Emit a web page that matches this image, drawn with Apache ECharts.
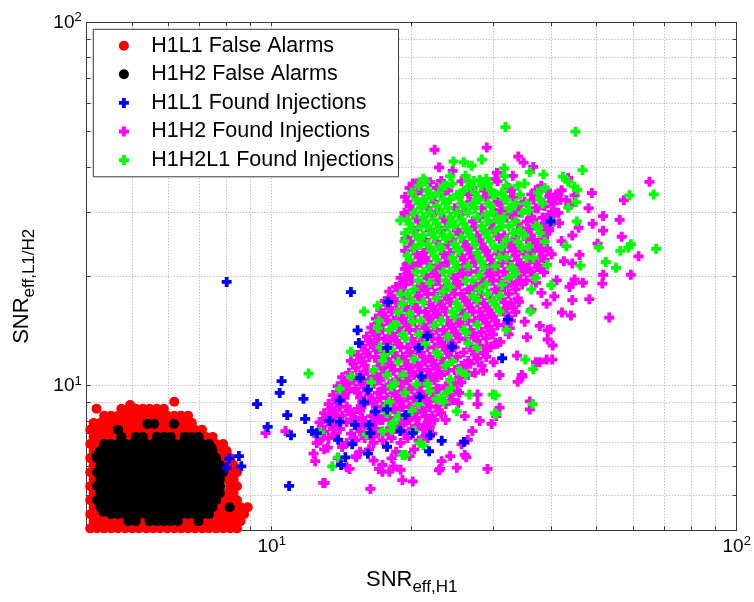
<!DOCTYPE html>
<html><head><meta charset="utf-8">
<script src="https://cdn.jsdelivr.net/npm/echarts@6/dist/echarts.min.js"></script>
<style>html,body{margin:0;padding:0;background:#fff}#chart{width:754px;height:602px}</style>
</head><body><div id="chart"></div>
<script>
const xTickValues = [5,6,7,8,9,10,20,30,40,50,60,70,80,90];
const yTickValues = [5,6,7,8,9,10,20,30,40,50,60,70,80,90];
const xLabelValues = [10,100];
const yLabelValues = [10,100];
const seriesNames = ['H1L1 False Alarms','H1H2 False Alarms','H1L1 Found Injections','H1H2 Found Injections','H1H2L1 Found Injections'];

// False alarm clouds, stored as rows: [y, [x values]]
const h1l1FalseAlarmRows = [
 [4.05,[4.07,4.21,4.36,4.51,4.67,4.84,5.01,5.18,5.37,5.56,5.75,5.96,6.17,6.38,6.61,6.84,7.08,7.33,7.59,7.86,8.14,8.42]],
 [4.24,[4.14,4.28,4.43,4.59,4.75,4.92,5.10,5.28,5.46,5.66,5.86,6.06,6.28,6.50,6.73,6.96,7.21,7.46,7.73,8.00,8.28,8.57]],
 [4.43,[4.07,4.21,4.36,7.59,7.86,8.14,8.42,8.72]],
 [4.63,[4.14,7.73,8.00,8.28,8.57,8.88]],
 [4.84,[4.07,7.86,8.14,8.42]],
 [5.06,[4.14,8.00,8.28]],
 [5.29,[4.07,8.14,8.42]],
 [5.53,[4.14,8.00,8.28]],
 [5.78,[4.07,8.14,8.42]],
 [6.05,[4.14,8.00,8.28]],
 [6.32,[4.07,7.86,8.14]],
 [6.61,[4.14,7.73,8.00]],
 [6.91,[4.07,4.21,7.59,7.86]],
 [7.23,[4.14,4.28,4.43,4.59,4.75,4.92,5.10,5.28,5.46,5.66,5.86,6.06,6.28,6.50,6.73,6.96,7.21,7.46]],
 [7.56,[4.07,4.21,4.36,4.51,4.67,4.84,5.01,5.18,5.37,5.56,5.75,5.96,6.17,6.38,6.61,6.84,7.08]],
 [7.90,[4.14,4.28,4.43,4.59,4.75,4.92,5.10,5.28,5.46,5.66,5.86,6.06,6.28,6.50,6.73]],
 [8.26,[4.36,4.51,4.67,4.84,5.01,5.18,5.37,5.56,5.75,5.96,6.17,6.38,6.61]],
 [8.64,[4.20,4.75,4.92,5.10,5.28,5.46,5.66,5.86]],
 [8.85,[4.96]],
 [9.03,[6.17]]
];
const h1h2FalseAlarmRows = [
 [4.24,[4.92,5.10,5.46,5.66,5.86,6.06,6.28,6.96]],
 [4.43,[4.51,4.67,4.84,5.01,5.18,5.37,5.56,5.75,5.96,6.17,6.38,6.61,6.84,7.08,7.33]],
 [4.50,[4.34]],
 [4.63,[4.28,4.43,4.59,4.75,4.92,5.10,5.28,5.46,5.66,5.86,6.06,6.28,6.50,6.73,6.96,7.21,7.46,8.12]],
 [4.84,[4.21,4.36,4.51,4.67,4.84,5.01,5.18,5.37,5.56,5.75,5.96,6.17,6.38,6.61,6.84,7.08,7.33,7.59]],
 [5.06,[4.28,4.43,4.59,4.75,4.92,5.10,5.28,5.46,5.66,5.86,6.06,6.28,6.50,6.73,6.96,7.21,7.46,7.73]],
 [5.29,[4.21,4.36,4.51,4.67,4.84,5.01,5.18,5.37,5.56,5.75,5.96,6.17,6.38,6.61,6.84,7.08,7.33,7.59,7.75]],
 [5.53,[4.28,4.43,4.59,4.75,4.92,5.10,5.28,5.46,5.66,5.86,6.06,6.28,6.50,6.73,6.96,7.21,7.46,7.73]],
 [5.78,[4.21,4.36,4.51,4.67,4.84,5.01,5.18,5.37,5.56,5.75,5.96,6.17,6.38,6.61,6.84,7.08,7.33,7.59,7.86]],
 [6.05,[4.28,4.43,4.59,4.75,4.92,5.10,5.28,5.46,5.66,5.86,6.06,6.28,6.50,6.73,6.96,7.21,7.46,7.73]],
 [6.32,[4.21,4.36,4.51,4.67,4.84,5.01,5.18,5.37,5.56,5.75,5.96,6.17,6.38,6.61,6.84,7.08,7.33,7.59]],
 [6.40,[4.20]],
 [6.61,[4.28,4.43,4.59,4.75,4.92,5.10,5.28,5.46,5.66,5.86,6.06,6.28,6.50,6.73,6.96,7.21,7.46]],
 [6.75,[7.42]],
 [6.91,[4.36,4.51,4.67,4.84,5.01,5.18,5.37,5.56,5.75,5.96,6.17,6.38,6.61,6.84,7.08,7.33]],
 [7.23,[4.75,5.10,5.28,5.66,5.86,6.06,6.50,6.73,6.96]],
 [7.56,[4.67]],
 [7.85,[5.40,5.58,6.16]]
];

// Found injections: [x, y] pairs
const h1l1Found = [
 [8.0,19.3],[14.8,18.1],[17.8,17.0],[15.3,14.2],[15.4,13.1],[17.7,12.7],[15.5,10.5],[16.1,9.75],[10.5,10.3],[10.4,9.55],
 [11.7,9.2],[9.3,8.9],[10.8,8.3],[11.8,8.1],[9.8,7.7],[11.0,7.3],[12.2,7.5],[12.5,7.4],[13.3,8.0],[14.0,7.95],
 [15.1,7.8],[13.9,7.1],[14.9,6.9],[14.4,6.35],[14.1,6.05],[16.2,7.8],[16.3,7.4],[16.1,6.5],[16.7,8.5],[17.7,8.6],
 [17.7,6.8],[10.9,5.3],[8.6,6.0],[8.1,6.3],[8.5,6.4],[8.0,5.95],[14.0,9.1],[15.8,9.0],[19.4,8.3],[18.9,7.5],
 [20.1,7.4],[21.0,10.6],[20.8,9.3],[21.9,7.3],[21.8,6.6],[25.9,7.0],[23.2,7.05],[31.3,11.9],[21.6,13.7],[20.7,12.7],
 [24.4,12.8],[32.2,15.2],[39.8,28.3]
];
const h1h2Found = [
 [23.14,36.6],[30.24,37.1],
 [19.79,35.0],[22.63,35.0],[27.05,35.0],[32.33,35.0],[36.96,34.5],
 [19.36,33.1],[20.24,33.6],[23.14,33.6],[26.45,33.6],[28.92,33.1],[33.06,33.1],[36.15,33.6],[39.52,33.1],[41.33,33.6],
 [19.79,31.2],[21.64,30.8],[24.74,30.8],[28.28,30.8],[30.92,31.7],[33.81,31.2],[36.96,30.8],[38.65,31.2],[40.41,31.7],
 [19.36,29.5],[22.13,29.5],[25.30,29.5],[30.24,29.9],[33.06,29.5],[36.15,29.1],[39.52,29.5],[41.33,29.9],
 [20.69,28.3],[23.66,28.3],[27.05,28.3],[29.57,27.9],[33.81,27.9],[35.35,28.3],[38.65,27.9],[40.41,28.3],
 [20.24,26.7],[23.14,26.7],[25.30,26.3],[27.66,25.9],[31.62,25.9],[34.57,26.7],[36.15,25.9],[39.52,26.7],
 [19.79,24.9],[22.63,24.9],[25.87,24.9],[28.28,24.5],[30.92,25.3],[32.33,24.5],[35.35,25.3],[36.96,24.5],
 [19.36,23.5],[21.16,23.2],[24.19,23.2],[26.45,23.9],[28.92,23.5],[31.62,23.2],[33.06,23.5],[36.15,23.2],[37.80,23.5],
 [20.69,22.5],[21.64,21.9],[23.66,22.5],[25.87,22.2],[27.05,22.5],[29.57,22.2],[32.33,21.9],[33.81,22.2],[36.96,21.9],[38.65,22.2],
 [19.36,20.95],[20.24,21.3],[22.13,20.95],[23.14,21.3],[25.30,20.95],[27.66,20.6],[28.92,20.95],[31.62,20.6],[34.57,21.3],[36.15,20.6],[37.80,20.95],
 [18.93,19.8],[19.79,20.1],[21.64,19.8],[22.63,20.1],[24.74,19.8],[25.87,20.1],[28.28,19.8],[29.57,20.1],[30.92,19.5],[33.81,20.1],[35.35,19.5],
 [18.51,18.7],[19.36,19.0],[21.16,18.7],[22.13,19.0],[23.14,18.4],[25.30,19.0],[26.45,18.4],[27.66,18.7],[30.24,18.4],[31.62,18.7],[34.57,19.0],
 [18.10,17.65],[19.79,17.4],[20.69,17.65],[21.64,17.9],[23.66,17.65],[24.74,17.9],[25.87,17.4],[28.28,17.9],[29.57,17.4],[32.33,17.9],[33.81,17.4],
 [17.70,16.7],[18.51,16.95],[19.36,16.45],[20.24,16.7],[22.13,16.45],[23.14,16.7],[24.19,16.95],[26.45,16.7],[27.66,16.95],[28.92,16.45],[31.62,16.95],[33.06,16.45],
 [17.31,15.75],[18.10,16.0],[18.93,15.5],[20.69,16.0],[21.64,15.5],[22.63,15.75],[23.66,16.0],[25.87,15.75],[27.05,16.0],[28.28,15.5],[29.57,15.75],[32.33,15.5],
 [16.93,14.9],[17.70,15.1],[19.36,14.9],[20.24,15.1],[21.16,14.7],[22.13,14.9],[24.19,14.7],[25.30,14.9],[26.45,15.1],[28.92,14.9],[30.24,15.1],[31.62,14.7],
 [16.56,14.05],[17.31,14.25],[18.10,13.85],[18.93,14.05],[19.79,14.25],[21.64,14.05],[22.63,14.25],[23.66,13.85],[24.74,14.05],[27.05,13.85],[28.28,14.05],[29.57,14.25],[32.33,13.85],
 [16.19,13.3],[16.93,13.5],[17.70,13.1],[18.51,13.3],[20.24,13.1],[21.16,13.3],[22.13,13.5],[23.14,13.1],[24.19,13.3],[25.30,13.5],[27.66,13.3],[28.92,13.5],[30.24,13.1],
 [15.84,12.55],[16.56,12.75],[17.31,12.35],[18.93,12.75],[19.79,12.35],[20.69,12.55],[21.64,12.75],[23.66,12.55],[24.74,12.75],[25.87,12.35],[27.05,12.55],[29.57,12.75],
 [15.49,11.85],[16.19,12.0],[16.93,11.7],[17.70,11.85],[18.51,12.0],[19.36,11.7],[21.16,12.0],[22.13,11.7],[23.14,11.85],[24.19,12.0],[26.45,11.7],[27.66,11.85],[28.92,12.0],
 [15.15,11.2],[15.84,11.35],[17.31,11.2],[18.10,11.35],[18.93,11.05],[19.79,11.2],[20.69,11.35],[21.64,11.05],[22.63,11.2],[24.74,11.05],[25.87,11.2],[28.28,11.35],
 [14.17,10.55],[15.49,10.7],[16.19,10.4],[16.93,10.55],[18.51,10.4],[19.36,10.55],[20.24,10.7],[21.16,10.4],[22.13,10.55],[23.14,10.7],[25.30,10.55],[26.45,10.7],
 [13.86,9.97],[14.49,10.12],[15.15,9.82],[15.84,9.97],[16.56,10.12],[17.31,9.82],[18.93,10.12],[19.79,9.82],[20.69,9.97],[22.63,9.82],[23.66,9.97],[24.74,10.12],
 [13.55,9.42],[14.17,9.56],[15.49,9.28],[16.19,9.42],[16.93,9.56],[17.70,9.28],[18.51,9.42],[20.24,9.28],[21.16,9.42],[22.13,9.56],[24.19,9.42],[25.30,9.56],
 [13.25,8.9],[13.86,9.03],[14.49,8.77],[15.84,8.9],[16.56,9.03],[17.31,8.77],[18.10,8.9],[18.93,9.03],[19.79,8.77],[21.64,9.03],[22.63,8.77],[23.66,8.9],
 [12.96,8.4],[13.55,8.53],[14.17,8.27],[14.81,8.4],[15.49,8.53],[16.93,8.27],[18.51,8.53],[19.36,8.27],[20.24,8.4],[21.16,8.53],[22.13,8.27],[23.14,8.4],
 [12.67,7.93],[13.25,8.05],[13.86,7.81],[14.49,7.93],[15.15,8.05],[15.84,7.81],[16.56,7.93],[17.31,8.05],[18.93,7.93],[19.79,8.05],[20.69,7.81],[21.64,7.93],[23.66,8.05],
 [12.96,7.49],[13.55,7.6],[14.81,7.38],[15.49,7.49],[16.19,7.6],[16.93,7.38],[17.70,7.49],[18.51,7.6],[19.36,7.38],[21.16,7.6],[22.13,7.38],
 [12.67,7.07],[13.25,7.18],[14.49,6.96],[15.15,7.07],[15.84,7.18],[16.56,6.96],[17.31,7.07],[18.10,7.18],[18.93,6.96],[20.69,7.07],[21.64,7.18],
 [12.96,6.68],[14.17,6.78],[15.49,6.58],[16.19,6.68],[17.70,6.78],[18.51,6.58],[20.24,6.68],
 [13.86,6.31],[15.15,6.4],[16.56,6.22],[18.10,6.31],[19.79,6.4],
 [14.49,5.96],[17.31,6.05],[18.93,5.87],
 [20.47,36.0],[25.58,36.5],[30.58,36.5],
 [20.92,34.45],[23.93,34.45],[28.60,34.45],[32.69,34.45],[39.08,34.45],[40.86,33.55],
 [19.58,32.1],[22.38,32.1],[26.75,32.1],[30.58,32.1],[34.96,32.1],[36.56,32.5],[39.96,32.1],[41.79,32.5],
 [20.01,30.35],[22.88,30.35],[26.16,30.35],[31.27,30.35],[34.19,29.95],[37.37,30.75],[40.86,29.95],
 [20.47,29.0],[23.40,29.0],[27.97,29.0],[31.97,29.0],[36.56,28.65],[38.22,29.0],
 [21.88,26.7],[25.02,26.7],[27.35,27.4],[29.90,27.05],[35.75,27.05],[39.08,26.7],
 [19.58,25.55],[21.40,25.2],[24.46,25.2],[27.97,25.2],[30.58,25.9],[33.43,25.55],[36.56,25.2],[38.22,25.55],
 [20.01,24.15],[21.88,23.85],[23.93,24.45],[26.16,24.15],[28.60,23.85],[32.69,24.45],[34.19,23.85],[37.37,24.45],[39.08,23.85],
 [20.47,23.1],[21.40,22.5],[23.40,23.1],[25.58,22.8],[26.75,23.1],[29.24,22.8],[30.58,23.1],[33.43,22.8],[34.96,23.1],[38.22,22.8],
 [20.01,21.5],[20.92,21.8],[22.88,21.5],[23.93,21.8],[26.16,21.5],[27.35,21.8],[29.90,21.5],[31.27,21.8],[34.19,21.5],[35.75,21.8],[37.37,21.2],
 [19.58,20.35],[21.40,20.1],[22.38,20.35],[24.46,20.1],[25.58,20.35],[26.75,20.6],[29.24,20.35],[30.58,20.6],[31.97,20.1],[34.96,20.6],[36.56,20.1],
 [19.14,19.2],[20.01,19.45],[20.92,18.95],[22.88,19.45],[23.93,18.95],[25.02,19.2],[27.35,18.95],[28.60,19.2],[29.90,19.45],[32.69,19.2],[34.19,19.45],
 [17.90,18.15],[18.72,18.4],[20.47,18.15],[21.40,18.4],[22.38,17.9],[24.46,18.4],[25.58,17.9],[26.75,18.15],[29.24,17.9],[30.58,18.15],[33.43,18.4],
 [17.50,17.1],[18.30,17.35],[19.14,16.85],[20.92,17.35],[21.88,16.85],[22.88,17.1],[23.93,17.35],[26.16,17.1],[27.35,17.35],[28.60,16.85],[31.27,17.35],[32.69,16.85],
 [17.12,16.15],[17.90,16.35],[19.58,16.15],[20.47,16.35],[21.40,15.95],[22.38,16.15],[23.40,16.35],[25.58,16.15],[26.75,16.35],[27.97,15.95],[29.24,16.15],[31.97,16.35],[33.43,15.95],
 [16.75,15.3],[17.50,15.5],[18.30,15.1],[19.14,15.3],[20.01,15.5],[21.88,15.3],[22.88,15.5],[23.93,15.1],[25.02,15.3],[27.35,15.1],[28.60,15.3],[29.90,15.5],[32.69,15.1],
 [16.37,14.45],[17.12,14.65],[18.72,14.45],[19.58,14.65],[20.47,14.25],[21.40,14.45],[23.40,14.25],[24.46,14.45],[25.58,14.65],[26.75,14.25],[29.24,14.45],[30.58,14.65],
 [16.02,13.65],[16.75,13.85],[17.50,13.45],[18.30,13.65],[20.01,13.45],[20.92,13.65],[21.88,13.85],[22.88,13.45],[25.02,13.85],[26.16,13.45],[27.35,13.65],[29.90,13.85],
 [15.66,12.9],[16.37,13.05],[17.90,12.9],[18.72,13.05],[19.58,12.75],[20.47,12.9],[22.38,12.75],[23.40,12.9],[24.46,13.05],[26.75,12.75],[27.97,12.9],[30.58,13.05],
 [15.32,12.15],[16.02,12.3],[16.75,12.0],[18.30,12.3],[19.14,12.0],[20.01,12.15],[20.92,12.3],[21.88,12.0],[23.93,12.3],[25.02,12.0],[27.35,12.15],[28.60,12.3],
 [14.98,11.5],[15.66,11.65],[17.12,11.35],[17.90,11.5],[19.58,11.35],[20.47,11.5],[21.40,11.65],[22.38,11.35],[23.40,11.5],[25.58,11.35],[26.75,11.5],
 [14.65,10.85],[16.02,11.0],[16.75,10.7],[17.50,10.85],[18.30,11.0],[20.01,10.85],[20.92,11.0],[21.88,10.7],[22.88,10.85],[23.93,11.0],[27.35,10.85],
 [14.33,10.22],[14.98,10.35],[15.66,10.09],[17.12,10.35],[17.90,10.09],[18.72,10.22],[19.58,10.35],[21.40,10.22],[22.38,10.35],[24.46,10.09],[25.58,10.22],
 [14.02,9.68],[14.65,9.8],[15.32,9.56],[16.02,9.68],[17.50,9.8],[18.30,9.56],[19.14,9.68],[20.01,9.8],[20.92,9.56],[22.88,9.8],[23.93,9.56],[25.02,9.68],
 [13.70,9.14],[14.33,9.26],[15.66,9.02],[16.37,9.14],[17.12,9.26],[18.72,9.14],[19.58,9.26],[20.47,9.02],[21.40,9.14],[22.38,9.26],[24.46,9.14],
 [13.40,8.63],[14.02,8.74],[14.65,8.52],[15.32,8.63],[16.75,8.74],[17.50,8.52],[18.30,8.63],[19.14,8.74],[20.92,8.63],[21.88,8.74],[22.88,8.52],
 [13.11,8.15],[13.70,8.25],[14.98,8.05],[15.66,8.15],[16.37,8.25],[17.12,8.05],[17.90,8.15],[19.58,8.05],[20.47,8.15],[21.40,8.25],[22.38,8.05],
 [12.81,7.7],[13.40,7.8],[14.02,7.6],[15.32,7.7],[16.02,7.8],[16.75,7.6],[18.30,7.7],[19.14,7.8],[20.01,7.6],[21.88,7.7],
 [12.53,7.27],[13.70,7.36],[14.98,7.18],[16.37,7.27],[17.90,7.36],[19.58,7.18],[21.40,7.27],
 [22.4,44.6],[29.0,45.2],[33.9,42.7],[34.8,41.1],[22.9,39.9],[20.1,36.0],[21.9,36.3],[43.4,37.3],[64.9,36.4],[57.2,32.4],
 [48.8,33.9],[48.0,30.8],[51.6,29.3],[56.0,28.6],[56.6,25.7],[51.6,26.7],[49.0,27.9],[45.7,27.2],[44.3,25.9],[50.2,24.6],
 [61.5,22.7],[59.2,20.2],[51.6,20.2],[51.4,19.1],[44.3,19.1],[46.7,19.2],[43.7,18.7],[48.2,17.3],[44.3,17.2],[53.2,15.4],
 [44.0,15.6],[45.9,22.9],[44.3,21.7],[42.1,15.9],[39.8,14.3],[39.2,13.4],[40.2,12.9],[40.1,11.8],[37.7,11.6],[34.5,10.7],
 [33.8,10.25],[33.7,12.1],[35.9,9.05],[30.9,10.7],[30.9,8.7],[30.4,8.25],[29.7,7.85],[29.1,5.9],[25.0,5.95],[23.2,6.2],
 [22.9,5.85],[26.0,6.45],[27.7,8.9],[35.4,13.6],[32.5,14.4],[37.7,14.6],[39.2,14.2],[36.2,16.2],[40.5,17.6],[44.8,19.6],
 [40.6,32.9],[43.0,32.4],[43.7,31.4],[44.8,33.4],[37.0,11.6],[39.0,11.8],[34.6,10.6],[35.9,8.6],[26.2,6.35],[25.6,6.9],
 [26.4,7.1],[24.2,6.4],[23.0,5.9],[19.1,5.5],[20.1,5.45],[18.3,6.0],[17.3,5.8],[16.3,5.2],[17.9,5.8],[15.2,6.35],
 [13.0,5.4],[12.3,6.5],[12.4,6.2],[12.5,6.95],[13.2,6.75],[12.9,5.4],[14.7,5.9],[17.0,5.9],[9.7,7.4],[10.7,7.5],
 [12.8,7.15],[13.6,8.4],[12.9,8.1],[14.0,9.1],[14.6,9.65],[14.8,11.7],[16.5,13.1],[16.8,12.7],[18.1,13.7],[18.6,16.0],
 [19.4,19.7],[19.5,21.5],[16.0,11.0],[19.3,29.9],[19.4,25.4],[19.6,21.7],[19.2,17.9],[25.2,8.95],[26.0,8.25],[27.7,9.45],
 [28.0,8.0],[27.0,7.5],[29.0,12.8],[31.0,13.2],[30.0,11.6],[28.5,11.0],[38.0,18.0],[37.0,19.2],[39.0,16.8],[35.0,15.0],
 [41.0,19.5],[38.5,20.5],[40.0,23.0],[42.0,25.0],[41.5,28.0],[39.5,27.0],[42.5,22.0],[40.0,30.0],[42.0,34.5],[38.0,35.5],
 [30.5,38.5],[33.0,37.8],[24.5,39.0],[36.5,40.0],[31.5,16.0],[34.0,17.0],[33.5,19.0],[35.5,21.0],[38.0,22.5],[36.5,24.0],
 [38.5,25.5]
];
const h1h2l1Found = [
 [21.16,37.1],[24.19,37.7],[26.45,36.6],[28.92,37.1],[31.62,37.7],
 [20.69,35.5],[21.64,34.5],[23.66,35.5],[25.87,34.5],[28.28,35.5],[29.57,34.5],[33.81,35.5],[38.65,35.0],
 [21.16,32.6],[22.13,33.1],[24.19,32.6],[25.30,33.1],[27.66,32.6],[30.24,33.6],[31.62,32.6],[37.80,32.6],
 [20.69,31.7],[22.63,31.2],[23.66,31.7],[25.87,31.2],[27.05,31.7],[29.57,31.2],[32.33,30.8],[35.35,31.7],
 [20.24,29.9],[21.16,29.1],[23.14,29.9],[24.19,29.1],[26.45,29.9],[27.66,29.1],[28.92,29.5],[31.62,29.1],[34.57,29.9],
 [19.79,27.9],[21.64,27.5],[22.63,27.9],[24.74,27.5],[25.87,27.9],[28.28,27.5],[30.92,28.3],[32.33,27.5],[36.96,27.5],
 [19.36,26.3],[21.16,25.9],[22.13,26.3],[24.19,25.9],[26.45,26.7],[28.92,26.3],[30.24,26.7],[33.06,26.3],[37.80,26.3],
 [20.69,25.3],[21.64,24.5],[23.66,25.3],[24.74,24.5],[27.05,25.3],[29.57,24.9],[33.81,24.9],[38.65,24.9],
 [20.24,23.9],[22.13,23.5],[23.14,23.9],[25.30,23.5],[27.66,23.2],[30.24,23.9],[34.57,23.9],
 [19.79,22.2],[22.63,22.2],[24.74,21.9],[28.28,21.9],[30.92,22.5],[35.35,22.5],
 [21.16,20.6],[24.19,20.6],[26.45,21.3],[30.24,21.3],[33.06,20.95],
 [20.69,19.5],[23.66,19.5],[27.05,19.5],[32.33,19.8],[36.96,19.8],
 [20.24,18.4],[24.19,18.7],[28.92,19.0],[36.15,18.4],
 [18.93,17.9],[22.63,17.4],[27.05,17.65],[30.92,17.65],
 [21.16,16.95],[25.30,16.45],[30.24,16.7],
 [19.79,15.75],[24.74,15.5],[30.92,16.0],
 [18.51,14.7],[23.14,15.1],[27.66,14.7],
 [20.69,13.85],[25.87,14.25],[19.36,13.5],[26.45,13.1],[18.10,12.55],[22.63,12.35],[20.24,11.85],
 [16.56,11.05],[23.66,11.35],[17.70,10.7],[24.19,10.4],[18.10,9.97],[21.64,10.12],[19.36,9.56],[23.14,9.28],
 [20.69,8.9],[17.70,8.4],[18.10,7.81],[20.24,7.49],
 [21.40,36.5],[23.40,35.5],[24.46,36.0],[26.75,35.5],[29.24,36.0],[31.97,35.5],[34.96,36.0],
 [20.01,34.0],[21.88,33.55],[22.88,34.0],[25.02,33.55],[27.35,34.0],[29.90,33.55],[31.27,34.0],[34.19,33.55],[37.37,34.0],
 [20.47,32.5],[21.40,31.7],[23.40,32.5],[25.58,31.7],[27.97,32.5],[29.24,31.7],[31.97,32.5],[33.43,31.7],[38.22,31.7],
 [20.92,30.75],[21.88,29.95],[23.93,30.75],[25.02,29.95],[27.35,30.75],[29.90,29.95],[32.69,30.75],[35.75,30.35],
 [19.58,28.65],[21.40,28.3],[22.38,28.65],[24.46,28.3],[25.58,28.65],[29.24,28.3],[30.58,28.65],[33.43,28.3],[39.96,28.3],
 [20.01,27.05],[20.92,27.4],[22.88,27.05],[23.93,27.4],[26.16,27.05],[28.60,26.7],[31.27,27.4],[34.19,26.7],[37.37,27.4],
 [20.47,25.9],[22.38,25.55],[23.40,25.9],[25.58,25.55],[26.75,25.9],[29.24,25.55],[31.97,25.2],[34.96,25.9],
 [20.92,24.45],[22.88,24.15],[25.02,23.85],[27.35,24.45],[31.27,24.15],[35.75,24.15],
 [19.58,22.8],[22.38,22.8],[24.46,22.5],[27.97,22.5],[31.97,22.5],[36.56,22.5],
 [21.88,21.2],[25.02,21.2],[28.60,21.2],[32.69,21.2],[39.08,21.5],
 [20.47,20.6],[23.40,20.6],[27.97,20.1],[33.43,20.35],
 [21.88,19.2],[26.16,19.45],[31.27,18.95],
 [19.58,17.9],[23.40,18.15],[27.97,18.4],
 [20.01,17.1],[25.02,16.85],[29.90,17.1],
 [18.72,15.95],[24.46,15.95],[20.92,15.1],[26.16,15.5],
 [17.90,14.25],[22.38,14.65],[31.97,14.25],[19.14,13.85],[23.93,13.65],
 [17.12,12.75],[21.40,13.05],[17.50,12.15],[22.88,12.15],[18.72,11.65],[24.46,11.65],
 [19.14,10.7],[26.16,10.7],[16.37,10.22],[20.47,10.09],[21.88,9.68],[17.90,9.02],[23.40,9.02],[20.01,8.52],[18.72,8.25],
 [31.8,51.5],[45.0,50.0],[24.6,41.4],[25.9,41.2],[26.9,40.3],[28.3,41.9],[31.6,39.6],[46.6,39.2],[35.9,38.7],[38.4,38.1],
 [42.3,37.6],[43.4,36.4],[44.8,35.3],[45.4,34.6],[45.1,32.0],[43.4,30.9],[58.8,33.4],[66.3,33.6],[45.3,28.3],[43.0,24.2],
 [50.5,24.0],[59.2,24.5],[58.5,24.0],[56.2,23.5],[67.1,23.8],[52.3,21.9],[55.0,21.1],[46.1,21.4],[36.4,8.9],[36.5,11.1],
 [35.1,11.8],[30.3,9.4],[30.4,8.35],[36.0,16.0],[39.9,18.9],[20.8,6.95],[21.2,6.85],[19.4,6.45],[22.6,9.2],[23.8,9.6],
 [25.0,8.5],[30.2,8.4],[29.9,9.45],[18.4,10.15],[15.8,16.0],[16.9,16.6],[17.0,15.1],[16.9,14.4],[18.3,14.7],[19.1,16.8],
 [14.8,12.4],[14.8,10.6],[12.0,10.8],[14.0,9.8],[17.3,11.7],[18.1,9.95],[17.7,8.8],[18.3,7.9],[17.3,7.5],[16.0,7.35],
 [12.7,7.45],[13.9,6.35],[13.5,6.0],[19.1,6.45],[18.1,7.55],[18.9,28.5],[19.3,25.0],[26.1,37.8],[27.2,36.6],[28.0,36.8],
 [26.2,14.0],[27.6,12.7],[25.4,11.0],[24.3,9.85],[26.6,9.45],[29.1,17.9],[27.6,17.2],[20.1,15.0]
];

const rowsToPoints = rows => rows.flatMap(([y, xs]) => xs.map(x => [x, y]));

const FONT = "'Liberation Sans', Arial, Helvetica, sans-serif";
const CROSS = 'path://M3.1,0H6.9V3.1H10V6.9H6.9V10H3.1V6.9H0V3.1H3.1Z';
const AXIS_COLOR = '#3a3a3a';
const powLabel = v => '{b|10}{s|' + Math.round(Math.log10(v)) + '}';
const labelRich = {
  b: {fontSize: 19, fontFamily: FONT, color: '#000', lineHeight: 22},
  s: {fontSize: 13, fontFamily: FONT, color: '#000', lineHeight: 12, verticalAlign: 'top'}
};
const titleRich = {
  b: {fontSize: 22, fontFamily: FONT, color: '#000', lineHeight: 32},
  s: {fontSize: 17, fontFamily: FONT, color: '#000', lineHeight: 14, verticalAlign: 'bottom'}
};
const gridLine = {show: true, lineStyle: {color: '#a8a8a8', width: 1, type: [1, 2]}};

function makeAxis(isX, main) {
  const ticks = isX ? xTickValues : yTickValues;
  const labs = isX ? xLabelValues : yLabelValues;
  return {
    type: 'log', logBase: 10, min: 4, max: 100,
    position: isX ? (main ? 'bottom' : 'top') : (main ? 'left' : 'right'),
    axisLine: {show: true, onZero: false, lineStyle: {color: AXIS_COLOR, width: 1}},
    axisTick: {show: true, inside: true, length: 4, customValues: ticks, lineStyle: {color: AXIS_COLOR}},
    axisLabel: main ? {show: true, customValues: labs, formatter: powLabel, rich: labelRich, margin: 5} : {show: false},
    splitLine: main ? gridLine : {show: false},
    minorTick: {show: false}
  };
}

const xMain = makeAxis(true, true);
Object.assign(xMain, {
  name: '{b|SNR}{s|eff,H1}', nameLocation: 'middle', nameGap: 34,
  nameTextStyle: {rich: titleRich}
});
const yMain = makeAxis(false, true);
Object.assign(yMain, {
  name: '{b|SNR}{s|eff,L1/H2}', nameLocation: 'middle', nameGap: 49, nameRotate: 90,
  nameTextStyle: {rich: titleRich, padding: [0, 20, 0, 0]}
});

const baseSeries = (name, data, symbol, color, size) => ({
  name, type: 'scatter', data, symbol, symbolSize: size,
  itemStyle: {color, opacity: 1}, silent: true, animation: false,
  emphasis: {disabled: true}, large: false
});

const chart = echarts.init(document.getElementById('chart'), null, {renderer: 'canvas'});
chart.setOption({
  animation: false,
  backgroundColor: '#fff',
  textStyle: {fontFamily: FONT},
  grid: {left: 86.7, right: 17.3, top: 22.3, bottom: 71.7, containLabel: false},
  xAxis: [xMain, makeAxis(true, false)],
  yAxis: [yMain, makeAxis(false, false)],
  legend: {
    orient: 'vertical', left: 93.3, top: 29.3,
    padding: [5.4, 4.6, 5.7, 25.6],
    itemWidth: 44.8, itemHeight: 10, itemGap: 6.6,
    borderColor: AXIS_COLOR, borderWidth: 1, backgroundColor: '#fff',
    textStyle: {fontSize: 21.5, fontFamily: FONT, color: '#000', lineHeight: 22},
    selectedMode: false,
    data: [
      {name: seriesNames[0], icon: 'circle'},
      {name: seriesNames[1], icon: 'circle'},
      {name: seriesNames[2], icon: CROSS},
      {name: seriesNames[3], icon: CROSS},
      {name: seriesNames[4], icon: CROSS}
    ]
  },
  series: [
    baseSeries(seriesNames[0], rowsToPoints(h1l1FalseAlarmRows), 'circle', '#ff0000', 10),
    baseSeries(seriesNames[1], rowsToPoints(h1h2FalseAlarmRows), 'circle', '#000000', 10),
    baseSeries(seriesNames[3], h1h2Found, CROSS, '#ff00ff', 10),
    baseSeries(seriesNames[4], h1h2l1Found, CROSS, '#00ff00', 10),
    baseSeries(seriesNames[2], h1l1Found, CROSS, '#0000ff', 10)
  ]
});
</script>
</body></html>
